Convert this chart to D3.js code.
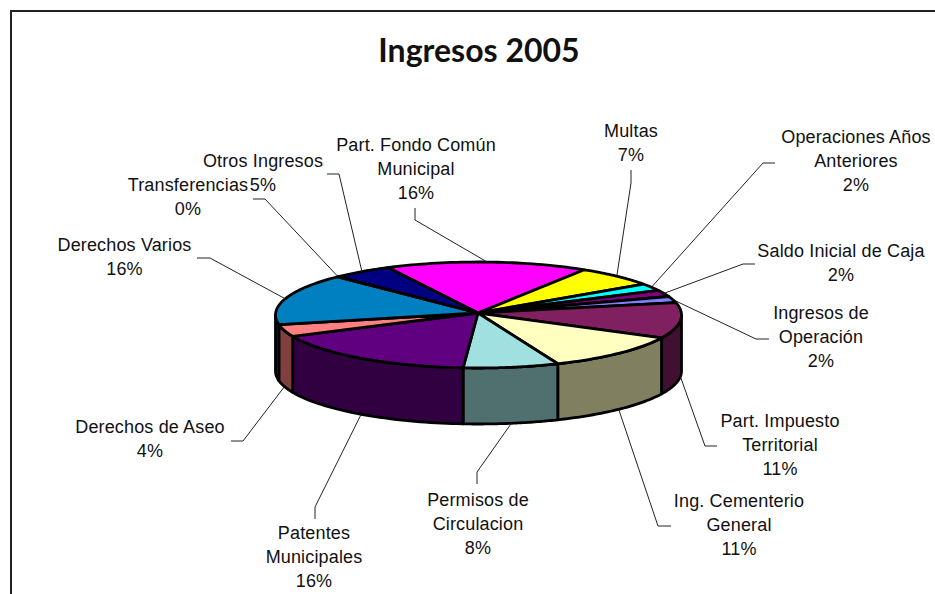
<!DOCTYPE html>
<html>
<head>
<meta charset="utf-8">
<title>Ingresos 2005</title>
<script src="https://cdn.jsdelivr.net/npm/d3@7"></script>
<style>
  html, body { margin: 0; padding: 0; background: #fff; overflow: hidden; }
  text { font-family: "Liberation Sans", Arial, sans-serif; fill: #111; }
</style>
</head>
<body>
<script>
// Data, clockwise from the back of the pie
var categorias = [
    "Part. Fondo Común|Municipal", "Multas", "Operaciones Años|Anteriores",
    "Saldo Inicial de Caja", "Ingresos de|Operación", "Part. Impuesto|Territorial",
    "Ing. Cementerio|General", "Permisos de|Circulacion", "Patentes|Municipales",
    "Derechos de Aseo", "Derechos Varios", "Transferencias", "Otros Ingresos"
];
var valores = [16.1, 6.4, 2.2, 2, 1.9, 10.9, 11.5, 7.6, 17.2, 3.7, 15.7, 0.1, 4.75];
var porcentajes = ["16%", "7%", "2%", "2%", "2%", "11%", "11%", "8%", "16%", "4%", "16%", "0%", "5%"];
var coloresTapa = ["#ff00ff", "#ffff00", "#00ffff", "#800080", "#8080ff", "#802060",
    "#ffffc0", "#a0e0e0", "#600080", "#ff8080", "#0080c0", "#c0c0ff", "#000080"];
var coloresPared = ["#800080", "#808000", "#008080", "#400040", "#404080", "#401030",
    "#808060", "#507070", "#300040", "#804040", "#004060", "#606080", "#000040"];

// Label layout: text centre, first baseline, and the elbow of the leader line
var posEtiquetas = [
    { x: 416, y: 151, codo: [[415, 208], [415, 220]] },
    { x: 631, y: 137, codo: [[631, 170], [631, 183]] },
    { x: 856, y: 143, codo: [[775, 163], [763, 163]] },
    { x: 841, y: 257, codo: [[755, 264], [743, 264]] },
    { x: 821, y: 319, codo: [[769, 339], [756, 339]] },
    { x: 780, y: 427, codo: [[717, 446], [705, 446]] },
    { x: 739, y: 507, codo: [[671, 526], [658, 526]] },
    { x: 478, y: 506, codo: [[477, 484], [477, 472]] },
    { x: 314, y: 539, codo: [[315, 519], [315, 507]] },
    { x: 150, y: 433, codo: [[231, 441], [243, 441]] },
    { x: 124.5, y: 251, codo: [[197, 258], [210, 258]] },
    { x: 188, y: 191, codo: [[253, 199], [265, 199]] },
    { x: 263, y: 167, codo: [[327, 174], [339, 174]] }
];

var W = 935, H = 594;
var cx = 478.5, cy = 315, rx = 203, ry = 53, alto = 56;
var apice = [478, 313];

var svg = d3.select("body").append("svg")
    .attr("width", W)
    .attr("height", H)
    .style("display", "block");

// Chart frame: open on the right and at the bottom
svg.append("path")
    .attr("d", d3.line()([[11, H], [11, 11], [W, 11]]))
    .attr("fill", "none")
    .attr("stroke", "#222")
    .attr("stroke-width", 2);

svg.append("text")
    .attr("x", 479)
    .attr("y", 62)
    .attr("text-anchor", "middle")
    .style("font-family", "Lato, 'Liberation Sans', sans-serif")
    .style("font-size", "32px")
    .style("font-weight", "bold")
    .text("Ingresos 2005");

var rad = Math.PI / 180;
var pie = d3.pie().sort(null)
    .startAngle(-26.5 * rad)
    .endAngle(333.5 * rad);
var sectores = pie(valores);

function borde(a, dy) {
    return [cx + rx * Math.sin(a), cy - ry * Math.cos(a) + (dy || 0)];
}
function muestras(a0, a1) {
    return d3.range(0, 41).map(function(i) { return a0 + (a1 - a0) * i / 40; });
}
var linea = d3.line();

// Side walls first, only the front half of the pie shows them
var g = svg.append("g").attr("stroke", "#000").attr("stroke-width", 2.8).attr("stroke-linejoin", "round");
sectores.forEach(function(s, i) {
    var a0 = Math.max(s.startAngle, 90 * rad), a1 = Math.min(s.endAngle, 270 * rad);
    if (a1 <= a0) return;
    var arriba = muestras(a0, a1).map(function(a) { return borde(a); });
    var abajo = muestras(a1, a0).map(function(a) { return borde(a, alto); });
    g.append("path")
        .attr("d", linea(arriba.concat(abajo)) + "Z")
        .attr("fill", coloresPared[i]);
});

// Top face
sectores.forEach(function(s, i) {
    var pts = [apice].concat(muestras(s.startAngle, s.endAngle).map(function(a) { return borde(a); }));
    g.append("path")
        .attr("d", linea(pts) + "Z")
        .attr("fill", coloresTapa[i]);
});

// Leader lines and labels
sectores.forEach(function(s, i) {
    var medio = (s.startAngle + s.endAngle) / 2;
    var frente = medio > 90 * rad && medio < 270 * rad;
    var fin = borde(medio, frente ? alto : 0);
    svg.append("path")
        .attr("d", linea(posEtiquetas[i].codo.concat([fin])))
        .attr("fill", "none")
        .attr("stroke", "#222")
        .attr("stroke-width", 1);

    var lineas = categorias[i].split("|").concat(porcentajes[i]);
    var t = svg.append("text")
        .attr("text-anchor", "middle")
        .style("font-size", "18px")
        .style("letter-spacing", "0.15px");
    lineas.forEach(function(txt, k) {
        t.append("tspan")
            .attr("x", posEtiquetas[i].x)
            .attr("y", posEtiquetas[i].y + k * 24)
            .text(txt);
    });
});
</script>
</body>
</html>
